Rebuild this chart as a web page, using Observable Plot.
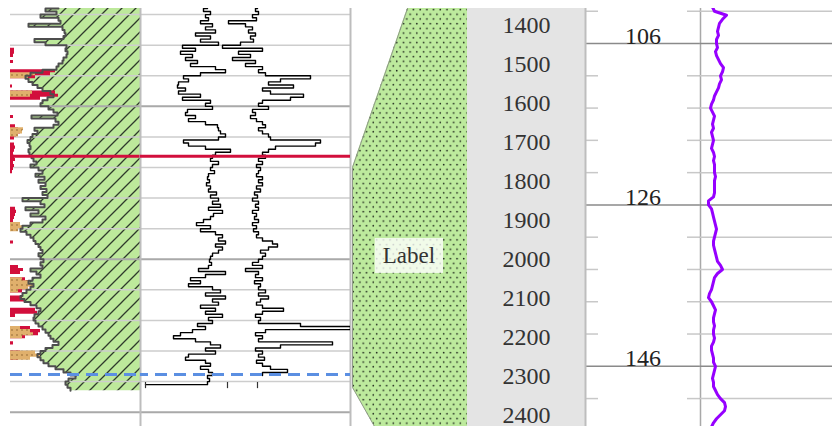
<!DOCTYPE html>
<html><head><meta charset="utf-8">
<script src="https://cdn.jsdelivr.net/npm/d3@7"></script>
<script src="https://cdn.jsdelivr.net/npm/@observablehq/plot@0.6"></script>
<style>
html,body{margin:0;padding:0;background:#fff;}
#chart{position:relative;width:832px;height:426px;overflow:hidden;}
</style></head><body><div id="chart"></div>
<script>
// ---------- DATA ----------
// Left track (own depth units, grid every 10, bold every 50)
const leftDepth = d3.range(1468, 1594);           // sample depths
const grayLog = [48,35,46,30,48,50,18,52,54,55, 53,24,35,56,55,57,56,53,52,48,
  46,32,20,15,18,22,27,32,40,43, 37,32,30,38,43,47,21,45,48,43,
  24,27,22,20,17,19,20,18,19,21, 23,26,20,28,32,25,34,28,35,30,
  36,32,37,12,30,34,15,28,20,35, 32,20,12,10,16,20,23,25,28,30,
  32,28,30,33,30,32,20,26,30,22, 18,23,20,16,12,10,14,20,26,30,
  28,24,23,25,28,32,35,38,40,43, 48,42,35,30,27,30,33,38,45,53,
  60,65,58,55,57,60];
const redFill = [0,0,0,0,0,0,0,0,0,0, 0,0,0,0,4,4,3,0,3,0,
  0,45,40,25,0,0,2,0,45,48, 30,0,0,0,0,0,3,0,0,5,
  8,10,6,4,0,4,5,4,3,4, 5,3,4,3,2,0,0,0,0,0,
  0,0,0,0,0,0,5,6,5,4, 3,0,0,0,0,0,0,3,0,0,
  0,0,0,0,0,8,13,10,0,15, 20,22,18,12,0,12,15,0,0,25,
  27,5,0,0,0,20,30,28,15,0, 3,0,0,10,12,8,0,0,0,0,
  0,0,0,0,0,0];
const tanFill = [0,0,0,0,0,0,0,0,0,0, 0,0,0,0,0,0,0,0,0,0,
  0,0,25,18,0,0,0,0,22,20, 0,0,0,0,0,0,0,0,0,0,
  13,12,8,0,0,0,0,0,0,0, 0,0,0,0,0,0,0,0,0,0,
  0,0,0,0,0,0,0,0,0,0, 0,10,12,8,0,0,0,0,0,0,
  0,0,0,0,0,0,0,0,0,12, 20,23,18,8,0,0,0,0,0,0,
  0,0,0,0,0,10,20,23,12,0, 0,0,0,25,30,20,0,0,0,0,
  0,0,0,0,0,0];
const logA = [67,63,70,65,68,60,72,65,75,55, 70,60,78,42,55,40,52,45,57,50,
  75,85,60,43,48,38,37,45,38,60, 42,70,65,72,47,45,55,48,65,77,
  78,80,85,78,43,48,65,90,75,72, 70,78,72,70,74,68,67,69,66,70,
  68,76,70,78,72,80,68,82,73,70, 63,56,70,60,75,82,78,85,75,82,
  78,72,70,69,71,68,58,85,65,50, 60,48,72,80,65,85,72,78,60,75,
  65,82,68,72,57,65,52,40,33,55, 70,80,65,75,48,45,65,70,60,68,
  72,67,69,67, 5];
const logADepth = [...d3.range(1468, 1592), 1591];
const logB = [117,115,118,112,116,88,105,112,108,115, 110,113,100,82,122,98,110,92,115,105,
  122,118,125,170,140,128,153,122,130,163, 150,122,118,128,112,115,110,116,122,125,
  118,122,128,130,180,175,135,128,122,125, 118,122,116,120,118,116,122,118,122,116,
  120,114,117,112,118,115,118,112,116,114, 118,112,116,113,118,116,122,132,137,128,
  120,125,122,118,112,122,105,118,115,122, 114,120,118,125,118,128,120,116,122,143,
  122,115,120,118,160,210,125,115,122,118, 192,140,115,122,118,124,116,122,130,147,
  122];
const logBDepth = d3.range(1468, 1589);
const leftGrid = d3.range(1470, 1601, 10);
const redMarker = [1516.3];
const blueMarker = [1587.7];
const endTicks = [5, 87, 117];

// Zone polygon (main depth units) and label
const zoneDepth = [1350, 1764, 2328, 2440];
const zoneLeft = [0.486, 0, 0, 0.214];
const zoneLabels = ["Label"];
const zoneLabelDepth = [1990];
const zoneLabelPos = [0.49];

// Main depth axis
const depthTicks = d3.range(1400, 2401, 100);

// Right depth axis and curve
const rightTicks = d3.range(102, 154, 4);
const rightMajor = [106, 126, 146];
const purpleDepth = d3.range(101.5, 154, 0.5);
const purpleLog = [6,7,13,11,9.5,9,8.5,9,8,8, 8.5,7.5,8,9,10,11.5,11,10,10.5,9.5,
  9,8,7,6.5,5.5,5,6,7,6.5,6, 6.5,5.5,6,6.5,6,5.5,6.5,7,6.5,7,
  7,7,7.5,7,7,7,7,6.5,4,4, 5.5,6,6.5,7,7.5,8,7.5,7,6.5,6.5,
  7,7.5,8,8.5,10,11,8.5,7,6.5,6, 5.5,4.5,4,5.5,6.5,7.5,7,6.5,6.5,7,
  6.5,6.5,7,6.5,5.5,5.5,6,6.5,6.5,7.5, 7,6.5,6,6.5,6.5,7.5,8.5,10,12,12.5,
  12,10,8,6.5,5.5];

// ---------- BUILD ----------
const chart = document.getElementById("chart");
chart.insertAdjacentHTML("beforeend", `<svg width="0" height="0" style="position:absolute"><defs>
<pattern id="hatch" patternUnits="userSpaceOnUse" width="14" height="14">
<rect width="14" height="14" fill="#bde99b"/>
<path d="M0,14 L14,0 M-3,3 L3,-3 M11,17 L17,11" stroke="#2f3a2c" stroke-width="1.3"/>
</pattern>
<pattern id="dots" patternUnits="userSpaceOnUse" width="6.7" height="9.4">
<rect width="6.7" height="9.4" fill="#bdea9d"/>
<circle cx="1.2" cy="1.6" r="0.85" fill="#1f271d"/>
<circle cx="4.55" cy="6.3" r="0.85" fill="#1f271d"/>
</pattern>
<pattern id="tandots" patternUnits="userSpaceOnUse" width="5" height="5">
<rect width="5" height="5" fill="#e0b06c"/>
<circle cx="2" cy="2" r="0.7" fill="#7a5220"/>
</pattern>
</defs></svg>`);

const FONT = '"Liberation Serif", "Times New Roman", serif';
const RED = "#d20f3c", BLUE = "#5b8fe2";
const H = 418, TOP = 8;
const base = {height: H, marginTop: 0, marginBottom: 0, marginLeft: 0, marginRight: 0,
  style: {background: "transparent", overflow: "visible"}};
function place(svg, left) {
  svg.style.position = "absolute";
  svg.style.left = left + "px";
  svg.style.top = TOP + "px";
  svg.style.maxWidth = "none";
  chart.appendChild(svg);
  return svg;
}
const leftY = {domain: [1468, 1604.68], reverse: true, axis: null};
const mainY = {domain: [1356.4, 2428.2], reverse: true, axis: null};
const rightY = {domain: [101.66, 153.46], reverse: true, axis: null};

const leftRows = leftDepth.map((d, i) => ({depth: d, gr: grayLog[i], red: redFill[i], tan: tanFill[i]}));
const rowsA = logADepth.map((d, i) => ({depth: d, v: logA[i]}));
const rowsB = logBDepth.map((d, i) => ({depth: d, v: logB[i]}));
const zoneRows = zoneDepth.map((d, i) => ({depth: d, x: zoneLeft[i]}));
const labelRows = zoneLabels.map((t, i) => ({text: t, depth: zoneLabelDepth[i], pos: zoneLabelPos[i]}));
const purpleRows = purpleDepth.map((d, i) => ({depth: d, v: purpleLog[i]}));

const minorL = leftGrid.filter(d => d % 50 !== 0), majorL = leftGrid.filter(d => d % 50 === 0);

// Track A: shaded curve
place(Plot.plot({...base, width: 130,
  x: {domain: [0, 130], axis: null}, y: leftY,
  marks: [
    Plot.areaX(leftRows, {y: "depth", x1: "gr", x2: 130, fill: "url(#hatch)", curve: "step-after", clip: true}),
    Plot.ruleY(minorL, {stroke: "#cdcdcd", strokeWidth: 1.5}),
    Plot.ruleY(majorL, {stroke: "#a9a9a9", strokeWidth: 2}),
    Plot.areaX(leftRows, {y: "depth", x1: 0, x2: "red", fill: RED, curve: "step-after"}),
    Plot.areaX(leftRows, {y: "depth", x1: 0, x2: "tan", fill: "url(#tandots)", curve: "step-after"}),
    Plot.line(leftRows, {x: "gr", y: "depth", stroke: "#4e4e4e", strokeWidth: 2, curve: "step-after"}),
    Plot.ruleY(redMarker, {stroke: RED, strokeWidth: 3}),
    Plot.ruleY(blueMarker, {stroke: BLUE, strokeWidth: 3, strokeDasharray: "12,7"})
  ]}), 10);

// Track B: two black curves
place(Plot.plot({...base, width: 210,
  x: {domain: [0, 210], axis: null}, y: leftY,
  marks: [
    Plot.ruleY(minorL, {stroke: "#cdcdcd", strokeWidth: 1.5}),
    Plot.ruleY(majorL, {stroke: "#a9a9a9", strokeWidth: 2}),
    Plot.ruleX([0, 210], {stroke: "#bdbdbd", strokeWidth: 2}),
    Plot.line(rowsA, {x: "v", y: "depth", stroke: "#000", strokeWidth: 1.4, curve: "step-after", clip: true}),
    Plot.line(rowsB, {x: "v", y: "depth", stroke: "#000", strokeWidth: 1.4, curve: "step-after", clip: true}),
    Plot.ruleX(endTicks, {y1: 1590.3, y2: 1592.3, stroke: "#333", strokeWidth: 1.2}),
    Plot.ruleY(redMarker, {stroke: RED, strokeWidth: 3}),
    Plot.ruleY(blueMarker, {stroke: BLUE, strokeWidth: 3, strokeDasharray: "12,7", strokeDashoffset: 4})
  ]}), 140);

// Zone polygon
const svgC = place(Plot.plot({...base, width: 115,
  x: {domain: [0, 1], axis: null}, y: mainY,
  marks: [
    Plot.areaX(zoneRows, {y: "depth", x1: "x", x2: 1, fill: "url(#dots)", clip: true}),
    Plot.line(zoneRows, {x: "x", y: "depth", stroke: "#8f9a88", strokeWidth: 1, clip: true}),
    Plot.text(labelRows, {x: "pos", y: "depth", text: "text", fontSize: 23, fontFamily: FONT, fill: "#333"})
  ]}), 352);
const texts = svgC.querySelectorAll("text");
const lt = texts[texts.length - 1];
if (lt) {
  const bb = lt.getBBox();
  const r = document.createElementNS("http://www.w3.org/2000/svg", "rect");
  r.setAttribute("x", bb.x - 8); r.setAttribute("y", bb.y - 5);
  r.setAttribute("width", bb.width + 16); r.setAttribute("height", bb.height + 10);
  r.setAttribute("fill", "#ffffff"); r.setAttribute("fill-opacity", "0.78");
  const tf = lt.getAttribute("transform");
  if (tf) r.setAttribute("transform", tf);
  lt.parentNode.insertBefore(r, lt);
}

// Main depth axis track
place(Plot.plot({...base, width: 118,
  style: {background: "#e4e4e4", overflow: "visible"},
  x: {domain: [0, 1], axis: null}, y: mainY,
  marks: [
    Plot.text(depthTicks, {y: d => d, text: d => String(d), frameAnchor: "middle",
      fontSize: 24, fontFamily: FONT, fill: "#333"})
  ]}), 467);

// Right depth label track
const minorR = rightTicks.filter(d => !rightMajor.includes(d));
place(Plot.plot({...base, width: 115,
  x: {domain: [0, 115], axis: null}, y: rightY,
  marks: [
    Plot.ruleY(minorR, {x1: 0, x2: 13, stroke: "#c8c8c8", strokeWidth: 1.5}),
    Plot.ruleY(minorR, {x1: 102, x2: 115, stroke: "#c8c8c8", strokeWidth: 1.5}),
    Plot.ruleY(rightMajor, {stroke: "#8a8a8a", strokeWidth: 1.5}),
    Plot.ruleX([0], {stroke: "#bdbdbd", strokeWidth: 2}),
    Plot.ruleX([115], {stroke: "#a8a8a8", strokeWidth: 1.5}),
    Plot.text(rightMajor, {y: d => d, text: d => String(d), frameAnchor: "middle", lineAnchor: "bottom",
      fontSize: 24, fontFamily: FONT, fill: "#222"})
  ]}), 585);

// Right curve track
place(Plot.plot({...base, width: 132,
  x: {domain: [0, 66], axis: null}, y: rightY,
  marks: [
    Plot.ruleY(minorR, {stroke: "#c8c8c8", strokeWidth: 1.5}),
    Plot.ruleY(rightMajor, {stroke: "#8a8a8a", strokeWidth: 1.5}),
    Plot.line(purpleRows, {x: "v", y: "depth", stroke: "#9600ff", strokeWidth: 3, clip: true})
  ]}), 700);
</script></body></html>
